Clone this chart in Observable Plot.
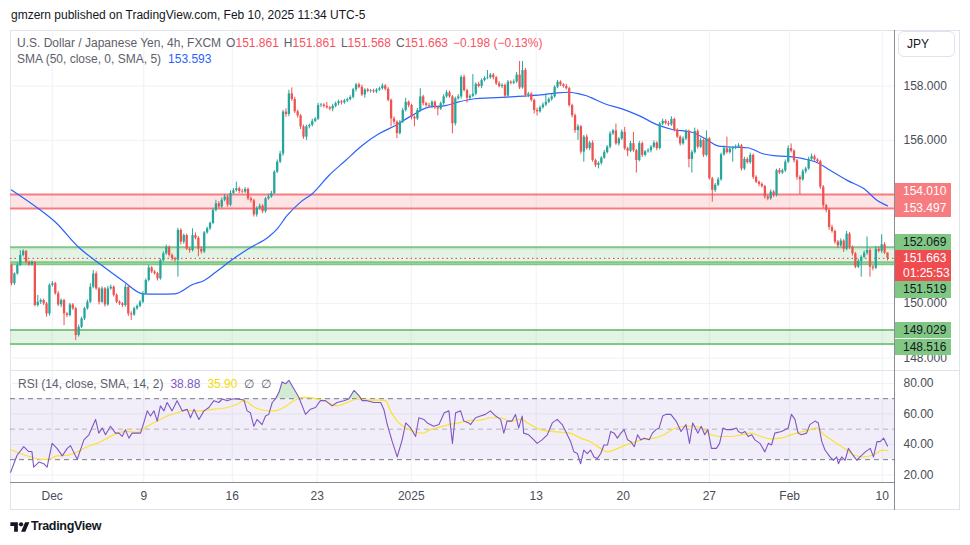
<!DOCTYPE html>
<html><head><meta charset="utf-8">
<script src="https://cdn.jsdelivr.net/npm/d3@7"></script>
<script src="https://cdn.jsdelivr.net/npm/@observablehq/plot@0.6"></script>
<style>
body{margin:0;background:#fff;}
#root{position:relative;width:970px;height:545px;overflow:hidden;font-family:"Liberation Sans",Arial,sans-serif;color:#131722;background:#fff;}
.abs{position:absolute;white-space:nowrap;}
.layer{position:absolute;left:0;}
.badge{position:absolute;left:895px;width:56px;font-size:12px;padding-left:8px;box-sizing:border-box;}
.gap{margin-left:5px;}
</style></head><body><div id="root"></div>
<script>
// ---------------- DATA ----------------
const firstOpen = 151.40;
const closes = [
150.73,151.09,151.40,151.77,151.92,151.52,151.42,151.52,149.93,150.05,
150.11,149.99,149.62,150.67,150.73,150.36,149.95,150.11,149.62,149.56,
149.95,149.81,148.83,149.13,149.44,149.81,150.05,150.60,151.09,150.54,
150.05,150.54,149.95,150.54,150.60,150.30,150.05,149.99,149.93,150.60,
149.62,149.58,149.81,149.90,150.05,150.36,150.85,151.31,151.16,151.10,
150.91,151.58,151.83,152.07,151.77,151.65,151.60,152.69,152.26,152.50,
152.00,151.95,152.50,152.40,152.00,151.90,152.60,152.75,152.95,153.42,
153.67,153.55,153.80,153.92,153.62,154.05,154.15,154.22,154.12,154.10,
154.20,153.85,153.78,153.26,153.50,153.58,153.38,153.85,153.92,154.05,
154.83,155.20,155.50,157.04,156.95,157.71,157.50,157.05,156.90,156.50,
156.12,156.50,156.55,156.70,156.78,157.28,157.30,157.25,157.20,157.15,
157.25,157.35,157.42,157.38,157.45,157.50,157.58,157.86,158.04,157.95,
157.67,157.85,157.80,157.82,157.78,157.85,157.90,158.00,157.88,157.47,
156.79,156.67,156.25,156.67,157.10,157.40,157.28,156.85,156.79,157.10,
157.60,157.35,157.28,157.25,157.40,157.20,157.15,157.35,157.60,157.75,
157.60,156.61,157.53,157.60,158.32,157.83,157.55,157.62,157.70,158.06,
157.98,158.20,158.28,158.30,158.40,158.30,158.08,157.98,158.02,157.63,
158.14,158.10,158.15,158.40,157.93,158.57,157.65,157.70,157.47,157.10,
157.05,157.20,157.30,157.40,157.50,157.60,157.95,158.14,158.04,157.98,
157.90,157.28,156.91,156.36,156.50,155.57,156.12,155.70,155.90,155.26,
155.08,155.15,155.35,155.55,155.75,156.24,156.35,155.87,156.05,156.30,
155.69,155.60,155.88,155.62,155.26,155.88,155.45,155.58,155.62,155.75,
155.90,155.70,156.60,156.70,156.62,156.57,156.77,156.37,156.12,155.87,
156.05,156.33,155.30,155.55,156.33,155.75,156.00,155.45,156.06,154.59,
154.16,154.35,154.55,155.47,155.69,155.55,155.68,155.72,155.75,155.80,
154.95,155.30,155.18,155.45,154.64,154.46,154.38,154.30,153.92,153.85,
154.10,153.98,154.89,154.80,154.88,155.20,155.70,155.60,155.25,154.64,
154.55,154.85,154.95,155.30,155.40,155.28,155.22,154.28,153.60,153.42,
152.80,152.65,152.26,152.12,152.30,152.00,152.55,152.07,151.83,151.34,
151.55,151.70,151.85,151.95,151.34,151.30,152.00,151.92,152.16,151.861,
151.663];
// wick lengths above / below the body, in hundredths of a yen
const upperWick = [
5,4,10,18,6,3,4,5,3,25, 6,5,5,5,8,5,8,6,5,5, 6,5,5,8,6,5,8,13,13,8, 5,8,5,10,8,5,6,5,5,10,
5,8,6,5,6,8,6,10,5,6, 5,6,8,8,5,6,5,8,6,6, 5,5,25,10,6,8,5,6,5,8, 13,8,8,10,6,10,8,24,6,8,
6,5,6,5,6,8,6,5,10,8, 6,8,10,6,12,13,22,8,6,5, 6,6,5,8,6,8,6,5,15,5, 8,6,6,5,6,5,6,5,5,6,
8,5,6,5,6,5,6,8,5,6, 5,8,5,6,8,15,5,5,5,8, 30,6,5,8,6,5,5,6,8,8, 6,5,6,8,6,8,5,6,72,5,
8,6,6,27,6,6,5,8,6,5, 6,5,8,10,50,33,8,6,5,5, 8,6,8,30,6,8,6,6,5,5, 8,5,5,6,8,5,6,8,6,8,
5,6,5,8,6,8,5,25,6,8, 18,6,8,42,5,8,6,5,8,6, 8,5,6,8,6,8,10,5,6,5, 8,6,5,8,12,6,8,5,29,4,
5,6,8,6,11,43,8,5,8,8, 5,8,6,8,5,6,5,6,5,6, 8,6,5,8,6,8,10,17,5,5, 6,8,6,8,10,6,5,5,6,5,
6,8,5,6,8,5,10,6,5,5, 8,6,8,50,8,6,10,8,37,8, 0];
const lowerWick = [
8,6,5,4,5,6,5,4,5,6, 8,6,12,8,6,5,6,10,43,8, 5,6,19,6,5,6,5,5,6,5, 10,5,8,5,5,6,5,6,8,6,
10,20,5,6,5,6,5,5,6,5, 8,5,6,5,6,8,8,63,10,8, 5,10,5,6,28,8,6,5,6,5, 5,6,5,6,8,6,5,5,8,6,
5,7,8,8,8,6,8,6,5,5, 5,5,5,8,10,8,6,6,8,10, 8,12,8,6,5,5,8,6,5,6, 10,5,8,8,5,6,5,6,8,5,
6,12,5,6,5,6,5,5,6,5, 29,10,19,5,5,6,8,10,29,6, 5,8,6,5,8,6,25,5,6,5, 5,37,8,5,8,5,18,5,5,6,
5,8,5,5,5,8,6,5,8,10, 5,6,5,6,6,5,8,8,6,13, 15,5,5,6,5,6,5,5,6,6, 5,6,8,10,36,8,37,6,8,6,
8,13,6,5,5,6,6,5,8,5, 6,20,5,6,46,5,8,6,5,8, 5,8,5,6,5,6,5,6,5,8, 5,5,31,50,5,8,5,8,6,5,
43,8,5,5,5,5,5,48,6,5, 8,6,5,6,8,5,8,5,8,7, 5,8,6,5,5,6,5,6,8,10, 55,5,8,5,5,5,6,8,10,8,
10,6,8,10,5,12,6,8,8,6, 5,58,5,8,37,10,5,6,8,6, 9.5];
// SMA(50): [bar index, value]
const smaPoints = [[0,154.18],[9.4,153.48],[15,153.0],[23,152.07],[31,151.40],[38,150.85],[45,150.36],[50,150.35],[56,150.36],[62,150.70],[66,150.85],[70,151.16],[76,151.65],[82,152.07],[88,152.45],[91,152.75],[94.4,153.24],[99,153.73],[103,154.04],[108.7,154.71],[114.4,155.26],[120.1,155.81],[125.8,156.24],[131.5,156.55],[137.2,156.92],[142.9,157.22],[148.6,157.28],[152.6,157.40],[158.6,157.53],[164,157.56],[169.7,157.59],[175.5,157.63],[181.2,157.67],[187,157.75],[190.5,157.77],[194,157.72],[196.6,157.65],[198.3,157.58],[203.4,157.34],[209.1,157.16],[214.7,156.92],[221.7,156.55],[226.3,156.40],[233,156.30],[237.6,156.06],[242.2,155.79],[247.9,155.75],[252,155.73],[257.6,155.50],[261,155.44],[265.6,155.41],[271.4,155.32],[276,155.18],[280.5,154.89],[286.2,154.53],[292,154.22],[296.5,153.79],[300,153.593]];
// RSI(14): [bar index, value]
const rsiPoints = [[-0.3,21.7],[1.9,32.9],[4.2,38.5],[5.9,35.3],[7,35.3],[7.6,25.1],[9.4,28.4],[11.1,27.3],[12.2,25.1],[13.9,40.7],[15.6,37.4],[17.4,32.5],[19.1,37.4],[20.2,39.2],[22.5,30.2],[24.8,43],[26.5,46.3],[28.8,56.4],[29.9,47.4],[31.1,50.8],[32.2,46.3],[33.9,51.9],[35.6,47.4],[36.8,47.4],[37.9,45.2],[39,49.7],[40.2,44.1],[41.3,47.4],[43,47.4],[44.2,47.4],[45.3,54.1],[46.5,62],[47.6,58.6],[48.8,62],[49.9,55.3],[51,65.3],[52.2,62],[53.3,67.5],[55,62],[56.7,68.7],[58.5,62],[60.2,63],[61.3,57.5],[62.5,63],[64.2,56.4],[65.9,62],[67.6,64.2],[69.3,68.7],[71,67.5],[72.2,69.8],[73.9,68.7],[75.6,69.8],[77.3,69.8],[79.6,69.1],[80.7,62],[81.8,60.8],[83,51.9],[84.1,56.4],[85.8,53],[87,58.6],[88.1,59.7],[89.3,67.5],[90.4,69.8],[91.6,74.2],[92.7,81],[93.9,79.8],[95,82.1],[96.7,76.5],[98.4,70.9],[100.7,59.7],[102.4,63.1],[104.1,64.2],[105.8,68.7],[107.5,68.7],[109.8,65.3],[111.5,67.5],[113.8,68.7],[115.5,69.8],[117.3,75.4],[119,72],[120.1,68.7],[121.8,68.7],[124.1,67.5],[126.4,67.5],[127.5,63.1],[128.7,53],[130.4,41.8],[132.1,31.8],[133.8,43],[135,54.1],[136.7,50.8],[138.4,45.2],[139.5,57.5],[141.2,56.4],[142.4,54.1],[144.6,51.9],[146.4,53],[148.2,60.8],[149.8,62],[151,40.7],[152.1,60.8],[153.8,62],[154.9,55.3],[156.6,54.1],[157.2,53],[158.9,57.5],[160.6,58.6],[162.3,59.7],[164,62],[165.8,58.6],[167.5,56.4],[168.6,47.4],[169.7,55.3],[171.4,55.3],[172.6,59.7],[173.7,50.8],[174.9,58.6],[175.4,47.4],[177.1,46.3],[178.9,43],[180,40.7],[181.7,43],[183.5,46.3],[185.2,54.1],[186.9,56.4],[188.6,53],[189.8,48.5],[191.5,41.8],[192.6,35.1],[193.8,34],[194.9,27.3],[196,36.3],[197.2,34],[198.3,36.3],[199.5,31.8],[200.6,30.7],[201.8,34],[202.9,39.6],[204.1,39.6],[205.2,48.5],[206.4,47.4],[207.5,44.1],[208.7,47.4],[209.8,49.7],[211,43],[212.1,41.8],[213.3,38.5],[214.4,46.3],[215.5,43],[216.7,44.1],[218.4,43],[219.5,47.4],[220.7,49.7],[221.8,50.8],[223,58.6],[224.1,59.7],[225.8,59.7],[227.6,55.3],[229.3,48.5],[231,53],[232.2,40.7],[233.3,54.1],[235.1,47.4],[236.2,51.9],[237.4,46.3],[238.5,49.7],[239.7,37.4],[241.4,37.4],[242.5,40.7],[243.7,50.8],[244.8,49.7],[246.6,49.7],[248.3,50.8],[248.9,48.5],[250,47.4],[251.2,48.5],[252.3,45.2],[253.5,46.3],[254.6,43],[256.3,40.7],[258,35.1],[259.2,40.7],[260.3,39.6],[261.4,47.4],[263.7,48.5],[266,50.8],[267.1,59.7],[268.3,56.4],[269.4,47.4],[270.5,46.3],[272.3,47.4],[273.4,53],[275.2,55.3],[276.3,54.1],[277.5,41.8],[278.6,36.3],[280.3,31.8],[281.5,29.6],[282.6,31.8],[283.2,27.3],[284.3,31.8],[285.5,29.6],[286.6,37.4],[287.8,34],[289.5,29.6],[290.6,31.8],[292.4,35.1],[294.1,37.4],[295.2,31.8],[296.4,41.8],[297.5,41.8],[298.7,44.1],[300,38.88]];
// RSI-based SMA(14): [bar index, value]
const rsiMaPoints = [[-0.3,36.7],[3,34],[6.5,31.8],[10,30.2],[12.8,30.2],[15.6,32.5],[19.1,32.9],[22.5,35.1],[25.9,38.5],[29.3,40.7],[32.8,44.1],[36.2,47.4],[39.6,48.5],[43,47.9],[46.5,51.9],[49.9,55.3],[53.3,58.6],[56.7,60.8],[60.2,62.4],[64.7,62],[69.3,63.1],[73.9,64.2],[77.3,66.4],[79.6,68.7],[83,64.6],[86.4,62.4],[89.8,62],[93.3,64.2],[96.7,68.7],[100.1,70.9],[103.5,70.4],[107,68.7],[111.5,65.3],[115,67.5],[118.4,69.8],[121.8,69.1],[126.4,69.1],[128.1,68.7],[129.8,62],[132.1,55.3],[135,50.8],[137.8,48.5],[140.7,47.4],[143.5,49.7],[146.4,51.2],[149.8,53],[153.3,54.1],[157.2,55.8],[160.6,55.9],[164,57.5],[167.5,57.5],[170.9,55.3],[174.3,56.4],[177.7,53],[181.2,49.7],[184.6,48.5],[188,48.1],[191.4,47.4],[194.9,44.1],[198.3,41.8],[201.7,37.4],[204,35.1],[206.3,36.3],[209.8,39.2],[213.2,41.4],[216.6,43.4],[220.1,44.1],[223.5,46.3],[226.9,50.3],[230.4,51.9],[233.8,51.9],[237.2,49.7],[239.5,46.3],[242.9,45.2],[246.3,45.2],[249.8,46.3],[253.2,47.4],[256.6,45.2],[260,43.6],[263.5,44.1],[266.9,46.3],[270.3,48.1],[273.7,49.7],[275.5,50.8],[278.3,46.3],[281.7,41.8],[285.2,37.4],[288.6,32.9],[292,31.8],[295.5,33.4],[298.3,36.3],[300,35.9]];
// Zones drawn on the chart
const zones = [
  {lo:153.497, hi:154.010, kind:"res"},
  {lo:151.519, hi:152.069, kind:"sup"},
  {lo:148.516, hi:149.029, kind:"sup"}];
const extraLevel = 151.45;
// Time axis
const tickIdx = [13.94, 45.3, 75.6, 104.7, 136.9, 179.7, 209.5, 239.0, 266.5, 298.2];
const tickLabels = ["Dec","9","16","23","2025","13","20","27","Feb","10"];
const priceTicks = [148,150,156,158];
const priceGrid = [148,150,152,154,156,158];
const rsiTicks = [20,40,60,80];
const countdown = "01:25:53";

// ---------------- BUILD ----------------
const FONT = '"Liberation Sans", Arial, sans-serif';
const UP = "#26a69a", DOWN = "#ef5350";
const X_DOMAIN = [-0.34, 302.4];
const candles = closes.map((c, i) => {
  const o = i === 0 ? firstOpen : closes[i - 1];
  return {i, open: o, close: c,
    high: Math.max(o, c) + upperWick[i] / 100,
    low: Math.min(o, c) - lowerWick[i] / 100,
    color: c >= o ? UP : DOWN};
});
const lastClose = closes[closes.length - 1];
const labelMap = new Map(tickIdx.map((t, k) => [t, tickLabels[k]]));
const zoneEdges = zones.flatMap(z => [{v:z.lo, kind:z.kind}, {v:z.hi, kind:z.kind}]).concat([{v:extraLevel, kind:"sup"}]);
const zoneFill = k => k === "res" ? "rgba(247,124,128,0.2)" : "rgba(129,199,132,0.22)";
const zoneStroke = k => k === "res" ? "#f77c80" : "#81c784";

const root = document.getElementById("root");

const pricePlot = Plot.plot({
  width: 970, height: 340, marginTop: 0, marginBottom: 0, marginLeft: 10, marginRight: 76,
  x: {domain: X_DOMAIN, axis: null},
  y: {domain: [147.54, 160.04], axis: null},
  style: {fontFamily: FONT, fontSize: "12px", background: "transparent"},
  marks: [
    Plot.ruleY(priceGrid, {stroke: "#eef1f6"}),
    Plot.ruleX(tickIdx, {stroke: "#eef1f6"}),
    Plot.rect(zones, {x1: X_DOMAIN[0], x2: X_DOMAIN[1], y1: "lo", y2: "hi", fill: d => zoneFill(d.kind)}),
    Plot.ruleY(zoneEdges, {y: "v", stroke: d => zoneStroke(d.kind), strokeWidth: 2}),
    Plot.ruleY([lastClose], {stroke: "#f23645", strokeDasharray: "1.5,3", strokeWidth: 1}),
    Plot.line(smaPoints, {x: d => d[0], y: d => d[1], stroke: "#2962ff", strokeWidth: 1.2, curve: "monotone-x"}),
    Plot.ruleX(candles, {x: "i", y1: "low", y2: "high", stroke: "color", strokeWidth: 1}),
    Plot.ruleX(candles, {x: "i", y1: "open", y2: "close", stroke: "color", strokeWidth: 2.3}),
    Plot.axisY({ticks: priceTicks, anchor: "right", tickSize: 0, tickPadding: 9, tickFormat: d => d.toFixed(3), fill: "#4a4d57", fontSize: 12})
  ]
});

const rsiPlot = Plot.plot({
  width: 970, height: 140, marginTop: 0, marginBottom: 28, marginLeft: 10, marginRight: 76,
  x: {domain: X_DOMAIN, axis: null},
  y: {domain: [15.0, 88.5], axis: null},
  style: {fontFamily: FONT, fontSize: "12px", background: "transparent"},
  marks: [
    Plot.ruleY(rsiTicks, {stroke: "#eef1f6"}),
    Plot.ruleX(tickIdx, {stroke: "#eef1f6"}),
    Plot.rect([[30, 70]], {x1: X_DOMAIN[0], x2: X_DOMAIN[1], y1: d => d[0], y2: d => d[1], fill: "rgba(126,87,194,0.1)"}),
    Plot.ruleY([70, 30], {stroke: "#787b86", strokeDasharray: "5,4"}),
    Plot.ruleY([50], {stroke: "#787b86", strokeOpacity: 0.5, strokeDasharray: "5,4"}),
    Plot.areaY(rsiPoints, {x: d => d[0], y1: 70, y2: d => Math.max(70, d[1]), fill: "rgba(76,175,80,0.25)"}),
    Plot.line(rsiMaPoints, {x: d => d[0], y: d => d[1], stroke: "#fbe232", strokeWidth: 1.2, curve: "monotone-x"}),
    Plot.line(rsiPoints, {x: d => d[0], y: d => d[1], stroke: "#7e57c2", strokeWidth: 1.1}),
    Plot.axisY({ticks: rsiTicks, anchor: "right", tickSize: 0, tickPadding: 9, tickFormat: d => d.toFixed(2), fill: "#4a4d57", fontSize: 12}),
    Plot.axisX({ticks: tickIdx, tickSize: 0, tickPadding: 9, tickFormat: d => labelMap.get(d), fill: "#4a4d57", fontSize: 12})
  ]
});

function place(el, top) {
  const d = document.createElement("div");
  d.className = "layer"; d.style.top = top + "px";
  d.appendChild(el); root.appendChild(d);
}
function div(style, html) {
  const d = document.createElement("div");
  d.className = "abs"; Object.assign(d.style, style);
  if (html !== undefined) d.innerHTML = html;
  root.appendChild(d); return d;
}

// frame
div({left:"10px", top:"30px", width:"950px", height:"480px", border:"1px solid #e0e3eb", boxSizing:"border-box"});
place(pricePlot, 30);
place(rsiPlot, 370);
// separators and axis line
div({left:"10px", top:"369.5px", width:"950px", height:"1px", background:"#e0e3eb"});
div({left:"10px", top:"482px", width:"884px", height:"1px", background:"#8a8d96"});
div({left:"894px", top:"30px", width:"1px", height:"480px", background:"#8a8d96"});

// header
div({left:"11px", top:"8px", fontSize:"12px", color:"#131722"}, "gmzern published on TradingView.com, Feb 10, 2025 11:34 UTC-5");
// legend line 1
const g = "#5d606b", r = "#f7525f";
const ohlc = [["O", "151.861"], ["H", "151.861"], ["L", "151.568"], ["C", "151.663"]];
div({left:"17px", top:"35.5px", fontSize:"12px", color:g},
  "U.S. Dollar / Japanese Yen, 4h, FXCM" +
  ohlc.map(([k, v]) => `<span class="gap">${k}<span style="color:${r}">${v}</span></span>`).join("") +
  `<span class="gap" style="color:${r}">\u22120.198 (\u22120.13%)</span>`);
// legend line 2
div({left:"17px", top:"51.5px", fontSize:"12px", color:g},
  `SMA (50, close, 0, SMA, 5)<span style="margin-left:7px;color:#2962ff">153.593</span>`);
// RSI legend
div({left:"18px", top:"376.5px", fontSize:"12px", color:g},
  `RSI (14, close, SMA, 14, 2)<span style="margin-left:7px;color:#7e57c2">38.88</span>` +
  `<span style="margin-left:7px;color:#f5d90a">35.90</span>` +
  `<span style="margin-left:7px">\u2205</span><span style="margin-left:7px">\u2205</span>`);

// JPY button
div({left:"898px", top:"31px", width:"57px", height:"26px", border:"1px solid #e0e3eb", borderRadius:"6px", boxSizing:"border-box", fontSize:"12px", lineHeight:"24px", paddingLeft:"8px"}, "JPY");

// price badges (position from the chart's y scale)
const ys = pricePlot.scale("y");
const badgeShift = new Map([[154.010,-2.3],[153.497,0.3],[152.069,-5],[151.519,27.5],[149.029,0.5],[148.516,3.5]]);
zones.flatMap(z => [{v:z.hi, kind:z.kind}, {v:z.lo, kind:z.kind}]).forEach(b => {
  const cy = 30 + ys.apply(b.v) + badgeShift.get(b.v);
  const h = 16.6;
  const red = b.kind === "res";
  const d = div({top:(cy - h/2) + "px", height:h + "px", lineHeight:h + "px",
    background: red ? "#f77c80" : "#81c784", color: red ? "#fff" : "#131722"}, b.v.toFixed(3));
  d.className = "badge";
});
{
  const cy = 30 + ys.apply(lastClose) + 7.6, h = 31;
  const d = div({top:(cy - h/2) + "px", height:h + "px", lineHeight:"15px", paddingTop:"1px",
    background:"#f04b4f", color:"#fff"}, lastClose.toFixed(3) + "<br>" + countdown);
  d.className = "badge";
}

// footer logo
div({left:"10px", top:"520px"}, '<svg width="20" height="15" viewBox="0 0 36 28"><path fill="#131722" d="M14 22H7V11H0V4h14v18zM28 22h-8l7.5-18h8L28 22z"/><circle fill="#131722" cx="20" cy="8" r="4"/></svg>');
div({left:"31px", top:"519px", fontSize:"12.5px", fontWeight:"bold", color:"#131722", letterSpacing:"-0.3px"}, "TradingView");
</script></body></html>
